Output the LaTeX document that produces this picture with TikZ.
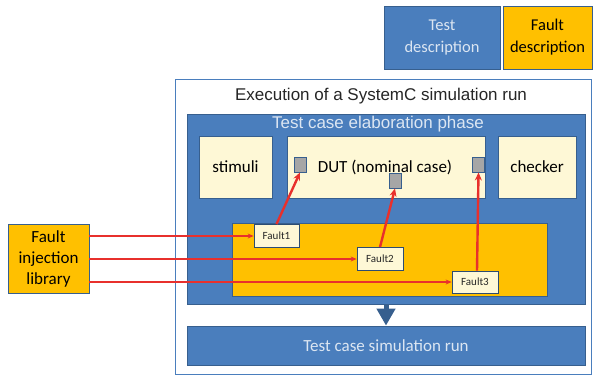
\documentclass[tikz,border=0pt]{standalone}
\usepackage{fontspec}
\setmainfont{Carlito}
\newfontfamily\arialf{Liberation Sans}
\usetikzlibrary{arrows.meta}
\definecolor{bluef}{HTML}{4A7EBD}
\definecolor{blued}{HTML}{375F8E}
\definecolor{oran}{HTML}{FFC000}
\definecolor{lyel}{HTML}{FEF8D6}
\definecolor{portg}{HTML}{A6A6A6}
\definecolor{redl}{HTML}{E8302C}
\definecolor{ltxt}{HTML}{DCE6F2}
\begin{document}
\begin{tikzpicture}[x=1pt,y=-1pt,
  bbox/.style={draw=blued, line width=0.8pt, fill=bluef, text=ltxt, align=center, inner sep=0pt},
  obox/.style={draw=blued, line width=0.8pt, fill=oran, text=black, align=center, inner sep=0pt},
  ybox/.style={draw=blued, line width=0.8pt, fill=lyel, text=black, align=center, inner sep=0pt},
  fbox/.style={draw=blued!80!black, line width=0.8pt, fill=lyel, text=black!85, inner sep=0pt, font=\fontsize{11}{13}\selectfont},
  port/.style={draw=blued, line width=0.9pt, fill=portg, inner sep=0pt, minimum width=12pt, minimum height=15pt},
  big/.style={font=\fontsize{17}{21}\selectfont},
  hline/.style={draw=redl, line width=1.8pt, -{Stealth[length=6pt,width=5pt]}},
  vline/.style={draw=redl, line width=2.4pt, -{Stealth[length=8pt,width=7pt]}}]
\useasboundingbox[fill=white] (0,0) rectangle (593,378);
% top boxes
\node[bbox, font=\fontsize{16.5}{22}\selectfont, minimum width=116pt, minimum height=63pt] (testd) at (442,37.5) {Test\\description};
\node[obox, font=\fontsize{16.5}{22}\selectfont, minimum width=89pt, minimum height=63pt] (faultd) at (547.5,37.5) {Fault\\description};
% outer
\node[draw=bluef, line width=0.9pt, fill=white, minimum width=416pt, minimum height=295pt, inner sep=0pt] (outer) at (383,226.5) {};
\node[font=\arialf\fontsize{17}{20}\selectfont, text=black!85] (title) at (381,96) {Execution of a SystemC simulation run};
% elaboration
\node[bbox, minimum width=398pt, minimum height=190pt] (elab) at (386,209) {};
\node[font=\arialf\fontsize{17}{20}\selectfont, text=ltxt] (elabt) at (378,124) {Test case elaboration phase};
\node[ybox, big, minimum width=73pt, minimum height=62pt] (stim) at (235.5,167) {stimuli};
\node[ybox, minimum width=198pt, minimum height=62pt] (dut) at (386,167) {};
\node[big, text=black] (dutt) at (385,167) {DUT (nominal case)};
\node[ybox, big, minimum width=78pt, minimum height=62pt] (chk) at (537,167) {checker};
\node[port] (p1) at (300,164.5) {};
\node[port] (p2) at (395,180.5) {};
\node[port] (p3) at (478.5,164.5) {};
% fault area
\node[obox, minimum width=315pt, minimum height=73pt] (farea) at (389.5,259.5) {};
\node[fbox, minimum width=45pt, minimum height=23pt] (f1) at (276.5,236) {Fault1};
\node[fbox, minimum width=46pt, minimum height=23pt] (f2) at (380,259) {Fault2};
\node[fbox, minimum width=46pt, minimum height=22pt] (f3) at (475,282) {Fault3};
% library
\node[obox, big, minimum width=81pt, minimum height=69pt] (lib) at (48.5,258.5) {Fault\\injection\\library};
% simulation run
\node[bbox, big, minimum width=398pt, minimum height=39pt] (sim) at (386,345.5) {Test case simulation run};
% connectors
\draw[hline] (lib.east |- f1.west) -- (f1.west);
\draw[hline] (lib.east |- f2.west) -- (f2.west);
\draw[hline] (lib.east |- f3.west) -- (f3.west);
\draw[vline] (f1.north) -- (p1.south);
\draw[vline] (f2.north) -- (p2.south);
\draw[vline] ([xshift=2pt]f3.north) -- (p3.south);
\draw[draw=blued, line width=5pt, -{Triangle[width=18pt,length=17pt]}] (elab.south) -- (sim.north);
\end{tikzpicture}
\end{document}
